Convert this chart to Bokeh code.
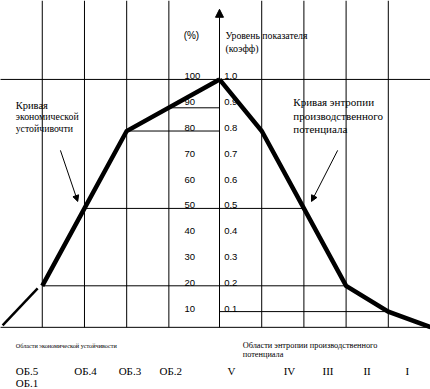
from bokeh.plotting import figure
from bokeh.models import Arrow, NormalHead
from bokeh.core.properties import value
from bokeh.embed import file_html
from bokeh.resources import INLINE

# ---------------- data ----------------
pct_ticks = [10, 20, 30, 40, 50, 60, 70, 80, 90, 100]
coef_ticks = ["0.1", "0.2", "0.3", "0.4", "0.5", "0.6", "0.7", "0.8", "0.9", "1.0"]

econ_regions = ["ОБ.5", "ОБ.4", "ОБ.3", "ОБ.2", "ОБ.1"]
entropy_regions = ["V", "IV", "III", "II", "I"]

# boundaries of the regions (x units, axis at 0)
econ_bounds = [-5.2, -4.2, -3.2, -2.2, -1.2, 0]
entropy_bounds = [0, 1, 2, 3, 4, 5]

# economic stability curve (%)
econ_x = [-4.2, -3.2, -2.2, 0]
econ_y = [20, 50, 80, 100]
econ_tail_x = [-5.14, -4.31]
econ_tail_y = [4.7, 19.0]

# production-potential entropy curve (coefficient)
entropy_x = [0, 1, 2, 3, 4, 5]
entropy_coef = [1.0, 0.8, 0.5, 0.2, 0.1, 0.04]

baseline = 3.9  # % level of bottom line

# horizontal reference lines: (level %, x from, x to)
h_levels = [100, 89, 80, 50, 20, 10, baseline]
h_from = [-5.2, -1.2, -2.2, -3.2, -4.2, 0, -5.2]
h_to = [5.0, 0, 0, 2, 3, 4, 5.0]

# ---------------- figure ----------------
W, H = 430, 389
p = figure(width=W, height=H, x_range=(-5.19, 5.0), y_range=(-20.2, 130.6),
           output_backend="svg", toolbar_location=None, min_border=0)
p.axis.visible = False
p.grid.visible = False
p.outline_line_color = None
p.background_fill_color = "white"
p.border_fill_color = "white"

# vertical lines
vx = econ_bounds[1:-1] + entropy_bounds[1:-1]
p.segment(x0=vx, y0=[baseline] * len(vx), x1=vx, y1=[130.6] * len(vx),
          line_color="black", line_width=1)

# horizontal lines
p.segment(x0=h_from, y0=h_levels, x1=h_to, y1=h_levels, line_color="black", line_width=1)

# central axis with arrow
p.add_layout(Arrow(end=NormalHead(size=8, fill_color="black", line_color="black"),
                   x_start=0, y_start=baseline, x_end=0, y_end=127.2,
                   line_color="black", line_width=1))

# curves
p.line(econ_x, econ_y, line_color="black", line_width=4.5, line_join="miter")
p.line(econ_tail_x, econ_tail_y, line_color="black", line_width=2.5)
p.line(entropy_x, [c * 100 for c in entropy_coef], line_color="black",
       line_width=4.5, line_join="miter")

# annotation arrows
for xs, ys, xe, ye in [(-3.77, 72.5, -3.36, 52.7), (2.80, 72.5, 2.18, 52.7)]:
    p.add_layout(Arrow(end=NormalHead(size=6, fill_color="black", line_color="black"),
                       x_start=xs, y_start=ys, x_end=xe, y_end=ye,
                       line_color="black", line_width=1))

serif = value("Liberation Serif")
sans = value("Liberation Sans")

# tick labels
p.text(x=[-0.83] * len(pct_ticks), y=pct_ticks, text=[str(t) for t in pct_ticks],
       text_font=sans, text_font_size="9.5px", text_baseline="middle",
       text_align="left", y_offset=-3)
p.text(x=[0.11] * len(coef_ticks), y=pct_ticks, text=coef_ticks,
       text_font=sans, text_font_size="9.5px", text_baseline="middle",
       text_align="left", y_offset=-3)

def txt(x, y, s, size="11px", font=serif):
    p.text(x=[x], y=[y], text=[s], text_font=font, text_font_size=size,
           text_baseline="middle", text_align="left", text_color="black")

txt(-0.85, 117.1, "(%)", "10px", sans)
txt(0.14, 117.1, "Уровень показателя", "9.8px")
txt(0.14, 112.0, "(коэфф)", "10px")

txt(-4.83, 89.9, "Кривая", "10.5px")
txt(-4.83, 85.5, "экономической", "9.8px")
txt(-4.83, 81.0, "устойчивочти", "9.8px")

txt(1.75, 91.1, "Кривая энтропии", "11px")
txt(1.75, 85.7, "производственного", "11px")
txt(1.75, 80.6, "потенциала", "11px")

txt(-4.83, -3.1, "Области экономической устойчивости", "6.2px")
txt(0.55, -3.1, "Области энтропии производственного", "8.3px")
txt(0.55, -6.6, "потенциала", "8.3px")

econ_label_x = [-4.83, -3.44, -2.39, -1.42, -4.83]
econ_label_y = [-13.2, -13.2, -13.2, -13.2, -17.8]
for lx, ly, s in zip(econ_label_x, econ_label_y, econ_regions):
    txt(lx, ly, s, "11px")

entropy_label_x = [0.19, 1.52, 2.44, 3.41, 4.41]
for lx, s in zip(entropy_label_x, entropy_regions):
    txt(lx, -13.2, s, "11px")

open("out.html", "w").write(file_html(p, INLINE))
